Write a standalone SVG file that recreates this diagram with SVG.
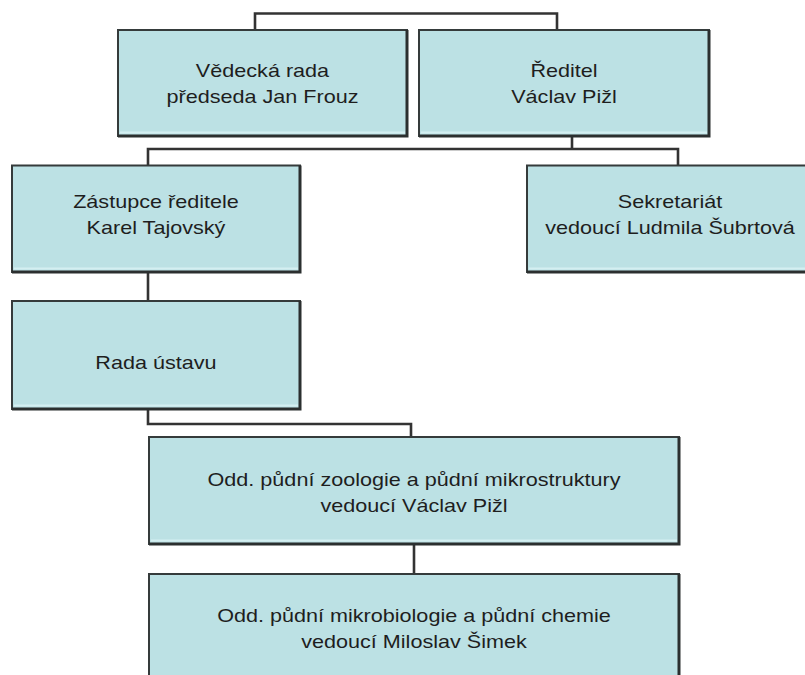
<svg xmlns="http://www.w3.org/2000/svg" width="805" height="675" viewBox="0 0 805 675">
  <style>
    .box { fill: #bce1e4; stroke: #353b3b; stroke-width: 2; }
    .shade { fill: none; stroke: #2b2f2f; stroke-width: 3; }
    .hl { fill: none; stroke: #d4eff1; stroke-width: 2; }
    .lbl { font-family: "Liberation Sans", Arial, sans-serif; font-size: 18px; fill: #1e1e1e; text-anchor: middle; }
    .conn { fill: none; stroke: #333333; stroke-width: 2.6; }
  </style>
  <rect width="805" height="675" fill="#ffffff"/>
  <g id="connectors">
    <path class="conn" d="M255,30 V13.5 H557 V30"/>
    <path class="conn" d="M572,136 V149"/>
    <path class="conn" d="M148,165.5 V149 H678 V165.5"/>
    <path class="conn" d="M148,272 V301"/>
    <path class="conn" d="M148,409 V424 H411 V437"/>
    <path class="conn" d="M414,544 V574"/>
  </g>
  <g id="vedecka-rada">
    <rect class="box" x="118" y="30" width="289" height="106"/>
    <path class="hl" d="M120,132.5 H405"/>
    <path class="shade" d="M118,136 H407 V30"/>
    <g transform="scale(1.2,1)">
      <text class="lbl" x="218.75" y="77">Vědecká rada</text>
      <text class="lbl" x="218.75" y="103">předseda Jan Frouz</text>
    </g>
  </g>
  <g id="reditel">
    <rect class="box" x="419" y="30" width="290" height="106"/>
    <path class="hl" d="M421,132.5 H707"/>
    <path class="shade" d="M419,136 H709 V30"/>
    <g transform="scale(1.2,1)">
      <text class="lbl" x="470" y="77">Ředitel</text>
      <text class="lbl" x="470" y="103">Václav Pižl</text>
    </g>
  </g>
  <g id="zastupce">
    <rect class="box" x="12" y="165.5" width="288" height="106.5"/>
    <path class="hl" d="M14,268.5 H298"/>
    <path class="shade" d="M12,272 H300 V165.5"/>
    <g transform="scale(1.2,1)">
      <text class="lbl" x="130" y="208">Zástupce ředitele</text>
      <text class="lbl" x="130" y="234">Karel Tajovský</text>
    </g>
  </g>
  <g id="sekretariat">
    <rect class="box" x="527" y="165.5" width="290" height="106.5"/>
    <path class="hl" d="M529,268.5 H815"/>
    <path class="shade" d="M527,272 H817"/>
    <g transform="scale(1.2,1)">
      <text class="lbl" x="558.33" y="208">Sekretariát</text>
      <text class="lbl" x="558.33" y="234">vedoucí Ludmila Šubrtová</text>
    </g>
  </g>
  <g id="rada-ustavu">
    <rect class="box" x="12" y="301" width="288" height="108"/>
    <path class="hl" d="M14,405.5 H298"/>
    <path class="shade" d="M12,409 H300 V301"/>
    <g transform="scale(1.2,1)">
      <text class="lbl" x="130" y="369">Rada ústavu</text>
    </g>
  </g>
  <g id="odd-zoologie">
    <rect class="box" x="149" y="437" width="530" height="107"/>
    <path class="hl" d="M151,540.5 H677"/>
    <path class="shade" d="M149,544 H679 V437"/>
    <g transform="scale(1.2,1)">
      <text class="lbl" x="345" y="486">Odd. půdní zoologie a půdní mikrostruktury</text>
      <text class="lbl" x="345" y="512">vedoucí Václav Pižl</text>
    </g>
  </g>
  <g id="odd-mikrobiologie">
    <rect class="box" x="149" y="574" width="530" height="110"/>
    <path class="shade" d="M679,574 V680"/>
    <g transform="scale(1.2,1)">
      <text class="lbl" x="345" y="622">Odd. půdní mikrobiologie a půdní chemie</text>
      <text class="lbl" x="345" y="648">vedoucí Miloslav Šimek</text>
    </g>
  </g>
</svg>
